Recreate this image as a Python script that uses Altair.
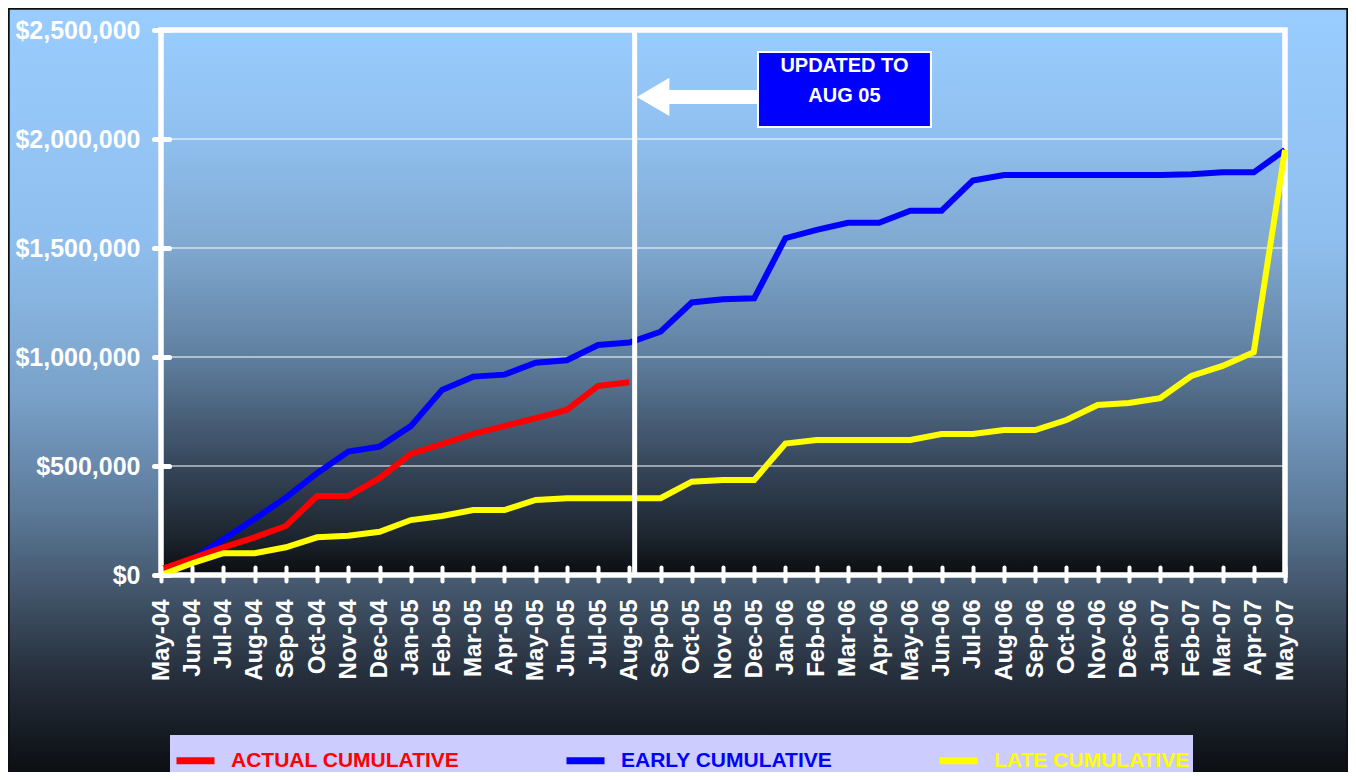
import json
import altair as alt
import pandas as pd

# ---------------- data ----------------
months = ["May-04", "Jun-04", "Jul-04", "Aug-04", "Sep-04", "Oct-04", "Nov-04", "Dec-04",
          "Jan-05", "Feb-05", "Mar-05", "Apr-05", "May-05", "Jun-05", "Jul-05", "Aug-05",
          "Sep-05", "Oct-05", "Nov-05", "Dec-05", "Jan-06", "Feb-06", "Mar-06", "Apr-06",
          "May-06", "Jun-06", "Jul-06", "Aug-06", "Sep-06", "Oct-06", "Nov-06", "Dec-06",
          "Jan-07", "Feb-07", "Mar-07", "Apr-07", "May-07"]

actual = [26000, 77000, 127000, 173000, 225000, 362000, 362000, 444000,
          555000, 601000, 647000, 683000, 719000, 757000, 867000, 884000]

early = [10000, 73000, 164000, 257000, 355000, 467000, 566000, 589000,
         683000, 849000, 910000, 919000, 974000, 985000, 1055000, 1066000,
         1116000, 1250000, 1265000, 1269000, 1545000, 1583000, 1616000, 1616000,
         1671000, 1671000, 1809000, 1835000, 1835000, 1835000, 1835000, 1835000,
         1835000, 1838000, 1847000, 1847000, 1950000]

late = [0, 54000, 100000, 100000, 127000, 173000, 180000, 198000,
        252000, 271000, 298000, 298000, 344000, 352000, 352000, 352000,
        352000, 428000, 436000, 436000, 603000, 619000, 619000, 619000,
        619000, 647000, 647000, 665000, 665000, 711000, 780000, 789000,
        811000, 913000, 959000, 1022000, 1950000]

series_names = ["ACTUAL CUMULATIVE", "EARLY CUMULATIVE", "LATE CUMULATIVE"]
series_colors = ["#FF0000", "#0000FF", "#FFFF00"]

y_ticks = [0, 500000, 1000000, 1500000, 2000000, 2500000]
grid_vals = [500000, 1000000, 1500000, 2000000]

note_lines = ["UPDATED TO", "AUG 05"]
note_line_y = [2335000, 2197000]
note_box = {"x0": 19.12, "x1": 24.66, "y0": 2055000, "y1": 2399000}
marker_month = 15.17
arrow_shaft = {"x0": 16.2, "x1": 19.12, "y": 2193000}
arrow_head = {"x": 15.76, "y": 2193000}

FONT = "Liberation Sans"
n_last = len(months) - 1
y_max = y_ticks[-1]

# ---------------- tables ----------------
def series_frame(name, vals):
    return pd.DataFrame({"m": list(range(len(vals))),
                         "month": months[:len(vals)],
                         "series": name,
                         "value": vals})

df_actual = series_frame("ACTUAL CUMULATIVE", actual)
df_early = series_frame("EARLY CUMULATIVE", early)
df_late = series_frame("LATE CUMULATIVE", late)

x_scale = alt.Scale(domain=[0, n_last], nice=False, zero=False, padding=0)
y_scale = alt.Scale(domain=[0, y_max], nice=False, zero=True)

outer_grad = {
    "gradient": "linear", "x1": 0, "y1": 0, "x2": 0, "y2": 1,
    "stops": [
        {"offset": 0.0, "color": "#99CCFF"},
        {"offset": 0.3, "color": "#8FBFEE"},
        {"offset": 0.5, "color": "#7AA2CA"},
        {"offset": 0.65, "color": "#5D7B9B"},
        {"offset": 0.75, "color": "#45596F"},
        {"offset": 0.87, "color": "#262F3C"},
        {"offset": 1.0, "color": "#0B0E12"},
    ],
}
plot_grad = {
    "gradient": "linear", "x1": 0, "y1": 0, "x2": 0, "y2": 1,
    "stops": [
        {"offset": 0.0, "color": "#99CCFF"},
        {"offset": 0.2, "color": "#8FBFEE"},
        {"offset": 0.4, "color": "#80A8D0"},
        {"offset": 0.6, "color": "#5F7F9F"},
        {"offset": 0.8, "color": "#36465A"},
        {"offset": 0.92, "color": "#1F2832"},
        {"offset": 1.0, "color": "#0B0D11"},
    ],
}

W, H = 1124, 545
PAD = {"left": 153, "top": 22, "right": 63, "bottom": 197}

x_axis = alt.Axis(
    values=list(range(len(months))),
    labelExpr=json.dumps(months) + "[datum.value]",
    labelAngle=-90, labelFont=FONT, labelFontWeight="bold", labelFontSize=24,
    labelColor="white", labelPadding=18, labelFlush=False, labelOverlap=False,
    tickColor="white", tickWidth=4, tickSize=14, tickCap="round",
    offset=-8, domain=False, grid=False, title=None, zindex=1,
)
y_axis = alt.Axis(
    values=y_ticks, format="$,.0f",
    labelFont=FONT, labelFontWeight="bold", labelFontSize=25,
    labelColor="white", labelPadding=14, labelFlush=False, labelOverlap=False,
    tickColor="white", tickWidth=5, tickSize=15, tickCap="round",
    offset=-8, domain=False, grid=False, title=None, zindex=1,
)

def X(field):
    return alt.X(field, scale=x_scale, axis=x_axis)

def Y(field):
    return alt.Y(field, scale=y_scale, axis=y_axis)

# outer background (decoration covering whole chart area)
outer = alt.Chart(pd.DataFrame({"a": [0]})).mark_rect(
    fill=outer_grad, stroke="#111111", strokeWidth=1.5
).encode(
    x=alt.value(-PAD["left"] + 1), x2=alt.value(W + PAD["right"] - 1),
    y=alt.value(-PAD["top"] + 1), y2=alt.value(H + PAD["bottom"] + 2),
)

frame_df = pd.DataFrame({"x0": [0], "x1": [n_last], "y0": [0], "y1": [y_max]})

plot_bg = alt.Chart(frame_df).mark_rect(fill=plot_grad).encode(
    x=X("x0:Q"), x2="x1:Q", y=Y("y0:Q"), y2="y1:Q",
)

grid = alt.Chart(pd.DataFrame({"g": grid_vals, "x0": 0, "x1": n_last})).mark_rule(
    color="white", strokeWidth=1.2
).encode(x=X("x0:Q"), x2="x1:Q", y=Y("g:Q"))

border = alt.Chart(frame_df).mark_rect(fill=None, stroke="white", strokeWidth=5.5).encode(
    x=X("x0:Q"), x2="x1:Q", y=Y("y0:Q"), y2="y1:Q",
)

label_color_expr = " : ".join(
    f"datum.value == '{n}' ? '{c}'" for n, c in zip(series_names[:-1], series_colors[:-1])
) + f" : '{series_colors[-1]}'"

legend = alt.Legend(
    orient="none", legendX=9, legendY=705, direction="horizontal", columns=3,
    title=None, fillColor="#CCCCFF", padding=3, columnPadding=92,
    symbolType="stroke", symbolSize=1444, symbolStrokeWidth=7,
    labelFont=FONT, labelFontWeight="bold", labelFontSize=21, labelOffset=13,
    labelLimit=400, labelColor=alt.ExprRef(expr=label_color_expr),
)
color_enc = alt.Color("series:N", scale=alt.Scale(domain=series_names, range=series_colors),
                      legend=legend)

def line_layer(df):
    return alt.Chart(df).mark_line(strokeWidth=6, strokeCap="butt").encode(
        x=X("m:Q"), y=Y("value:Q"), color=color_enc,
    )

marker = alt.Chart(pd.DataFrame({"x": [marker_month], "y0": [0], "y1": [y_max]})).mark_rule(
    color="white", strokeWidth=5
).encode(x=X("x:Q"), y=Y("y0:Q"), y2="y1:Q")

shaft = alt.Chart(pd.DataFrame([arrow_shaft])).mark_rule(color="white", strokeWidth=14).encode(
    x=X("x0:Q"), x2="x1:Q", y=Y("y:Q"),
)
head = alt.Chart(pd.DataFrame([arrow_head])).mark_point(
    shape="M-1,0L1,-1.17L1,1.17Z", filled=True, size=1063, color="white", opacity=1
).encode(x=X("x:Q"), y=Y("y:Q"))

box = alt.Chart(pd.DataFrame([note_box])).mark_rect(
    fill="#0000FF", stroke="white", strokeWidth=2
).encode(x=X("x0:Q"), x2="x1:Q", y=Y("y0:Q"), y2="y1:Q")

note = alt.Chart(pd.DataFrame({"t": note_lines, "y": note_line_y,
                               "x": (note_box["x0"] + note_box["x1"]) / 2})).mark_text(
    color="white", font=FONT, fontWeight="bold", fontSize=20, align="center", baseline="middle"
).encode(x=X("x:Q"), y=Y("y:Q"), text="t:N")

chart = alt.layer(
    outer, plot_bg, grid, border,
    line_layer(df_early), line_layer(df_actual), line_layer(df_late),
    marker, shaft, head, box, note,
).properties(
    width=W, height=H, padding=PAD,
    autosize=alt.AutoSizeParams(type="none"),
).configure(
    background="#0B0E12",
).configure_view(
    strokeWidth=0,
)

chart.save("out.html", embed_options={"renderer": "svg", "actions": False})
